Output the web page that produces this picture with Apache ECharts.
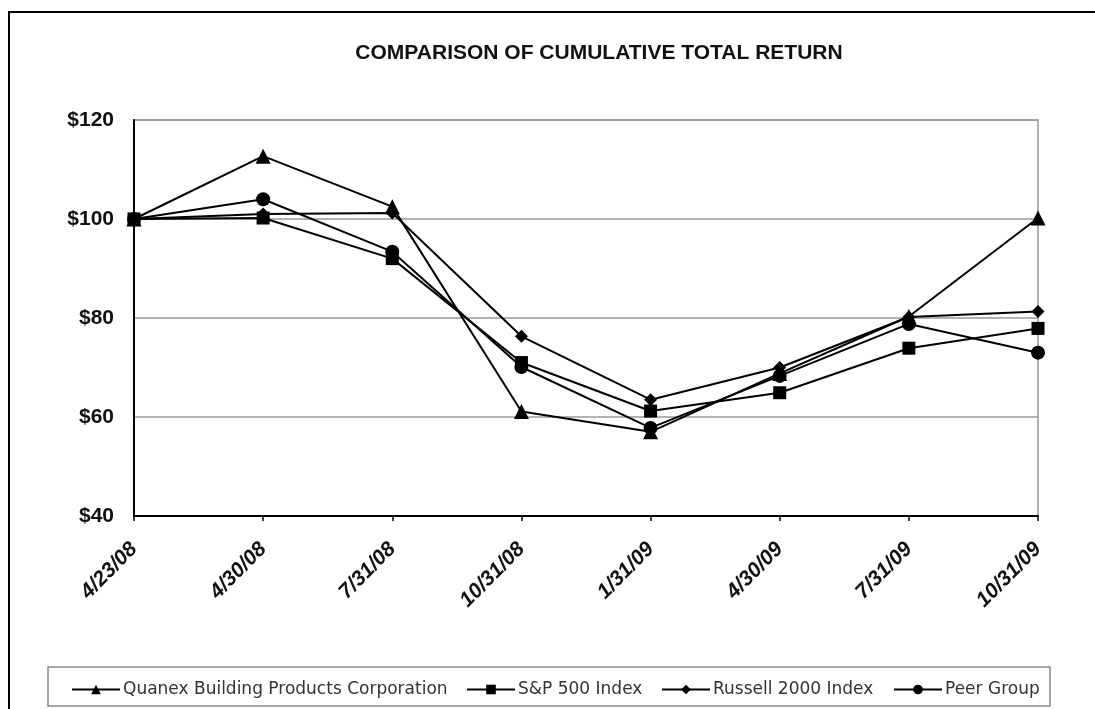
<!DOCTYPE html>
<html lang="en">

<head>
    <meta charset="utf-8">
    <title>Comparison of Cumulative Total Return</title>
    <script src="https://cdn.jsdelivr.net/npm/echarts@6/dist/echarts.min.js"></script>
    <style>
        html, body { margin: 0; padding: 0; background: #fff; }
        #chart { width: 1095px; height: 709px; }
    </style>
</head>

<body>
    <div id="chart"></div>
    <script type="text/javascript">
        // values
        var dates = ['4/23/08', '4/30/08', '7/31/08', '10/31/08', '1/31/09', '4/30/09', '7/31/09', '10/31/09'];
        var quanex = [100, 112.7, 102.5, 61.1, 57.0, 68.8, 80.3, 100.2];
        var sp500 = [100, 100.2, 92.0, 71.0, 61.2, 64.9, 73.9, 77.9];
        var russell = [100, 101.0, 101.2, 76.3, 63.5, 70.0, 80.2, 81.3];
        var peer = [100, 104.0, 93.4, 70.1, 57.8, 68.3, 78.8, 73.0];
        var yTicks = { min: 40, max: 120, step: 20 };

        var names = ['Quanex Building Products Corporation', 'S&P 500 Index', 'Russell 2000 Index', 'Peer Group'];
        var symbols = ['triangle', 'rect', 'diamond', 'circle'];
        var sizes = [15, 13, 13, 14];
        var values = [quanex, sp500, russell, peer];
        var legendLeft = [66, 461, 656, 888];

        var myChart = echarts.init(document.getElementById('chart'));

        var series = [];
        var legends = [];
        for (var i = 0; i < names.length; i++) {
            series.push({
                name: names[i],
                type: 'line',
                data: values[i],
                symbol: symbols[i],
                symbolSize: sizes[i],
                lineStyle: { color: '#000', width: 2 },
                itemStyle: { color: '#000' },
                z: 10 - i
            });
            legends.push({
                data: [names[i]],
                left: legendLeft[i],
                top: 676,
                itemWidth: 48,
                itemHeight: 12,
                itemGap: 0,
                textStyle: { fontFamily: 'DejaVu Sans', fontSize: 17, color: '#333', padding: [0, 0, 0, -2] },
                selectedMode: false
            });
        }

        var option = {
            animation: false,
            title: {
                text: 'COMPARISON OF CUMULATIVE TOTAL RETURN',
                left: 594,
                textAlign: 'center',
                top: 38,
                textStyle: { fontFamily: 'Liberation Sans', fontWeight: 'bold', fontSize: 21, color: '#111' }
            },
            legend: legends,
            grid: {
                left: 134,
                right: 57,
                top: 120,
                bottom: 193,
                show: true,
                borderColor: '#999',
                borderWidth: 1.5
            },
            graphic: [
                {
                    type: 'rect',
                    shape: { x: 9, y: 12, width: 1100, height: 720 },
                    style: { fill: 'none', stroke: '#000', lineWidth: 2 }
                },
                {
                    type: 'rect',
                    shape: { x: 48, y: 667, width: 1002, height: 39 },
                    style: { fill: 'none', stroke: '#888', lineWidth: 1.5 }
                }
            ],
            xAxis: {
                type: 'category',
                boundaryGap: false,
                data: dates,
                axisLine: { lineStyle: { color: '#000', width: 2 } },
                axisTick: { show: true, length: 5, lineStyle: { color: '#000', width: 1.5 } },
                axisLabel: {
                    rotate: 45,
                    margin: 30,
                    interval: 0,
                    fontFamily: 'Liberation Sans',
                    fontWeight: 'bold',
                    fontStyle: 'italic',
                    fontSize: 21,
                    color: '#111'
                },
                splitLine: { show: false }
            },
            yAxis: {
                type: 'value',
                min: yTicks.min,
                max: yTicks.max,
                interval: yTicks.step,
                axisLine: { show: true, lineStyle: { color: '#000', width: 2 } },
                axisTick: { show: false },
                axisLabel: {
                    margin: 20,
                    fontFamily: 'Liberation Sans',
                    fontWeight: 'bold',
                    fontSize: 21,
                    color: '#111',
                    formatter: function (v) { return '$' + v; }
                },
                splitLine: { lineStyle: { color: '#999', width: 1.5 } }
            },
            series: series
        };

        myChart.setOption(option);
    </script>
</body>

</html>
